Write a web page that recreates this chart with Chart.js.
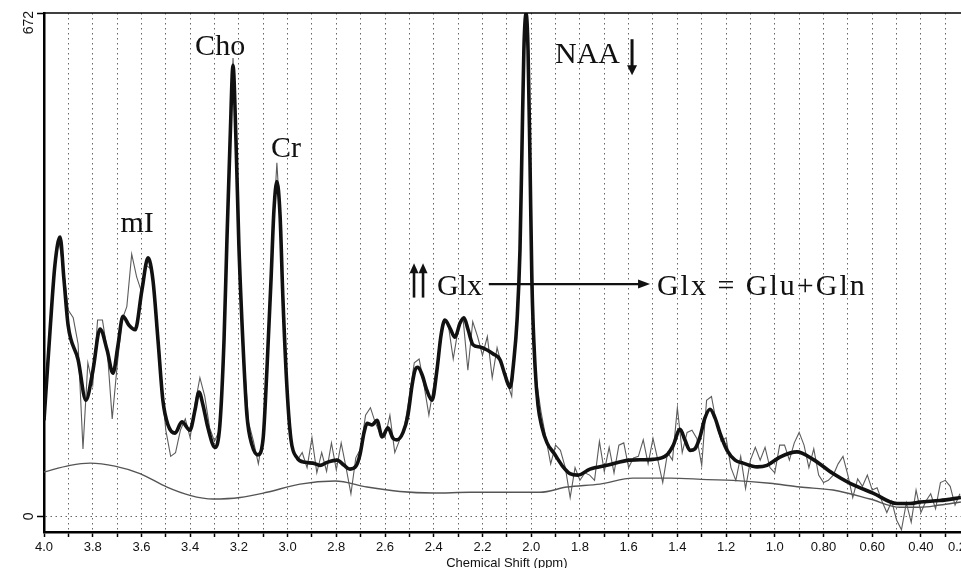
<!DOCTYPE html>
<html><head><meta charset="utf-8">
<script src="https://cdn.jsdelivr.net/npm/chart.js@4/dist/chart.umd.min.js"></script>
<style>html,body{margin:0;padding:0;background:#fff;overflow:hidden}</style>
</head><body>
<canvas id="c" width="961" height="568"></canvas>
<script>
// ---- Data (ppm, amplitude) ----
const fitPpm = [4.000,3.975,3.955,3.934,3.918,3.901,3.860,3.828,3.799,3.770,3.741,3.717,3.696,3.676,3.651,3.626,3.598,3.573,3.553,3.532,3.512,3.491,3.462,3.434,3.401,3.380,3.364,3.347,3.327,3.298,3.278,3.261,3.249,3.236,3.224,3.212,3.200,3.183,3.167,3.146,3.122,3.101,3.085,3.068,3.056,3.044,3.031,3.019,3.002,2.986,2.961,2.929,2.896,2.867,2.838,2.797,2.768,2.744,2.719,2.703,2.686,2.674,2.653,2.633,2.612,2.588,2.567,2.551,2.526,2.506,2.489,2.477,2.465,2.448,2.428,2.407,2.387,2.370,2.354,2.333,2.313,2.292,2.276,2.259,2.239,2.210,2.181,2.157,2.128,2.108,2.087,2.071,2.058,2.046,2.038,2.030,2.021,2.013,2.005,1.997,1.984,1.972,1.956,1.935,1.906,1.869,1.841,1.808,1.759,1.689,1.594,1.500,1.443,1.418,1.389,1.369,1.348,1.328,1.307,1.287,1.266,1.245,1.225,1.196,1.163,1.130,1.073,1.032,0.979,0.909,0.843,0.761,0.691,0.597,0.498,0.445,0.404,0.322,0.236];
const fitVal = [128,249,336,373,316,255,209,155,195,250,222,191,229,267,255,249,302,345,316,235,155,122,111,126,115,142,166,148,118,92,122,235,369,503,602,503,362,229,135,95,82,102,195,316,409,447,402,289,168,102,78,72,71,68,72,75,68,63,67,82,112,124,122,128,106,118,104,102,112,135,175,195,199,189,168,155,195,242,262,251,239,258,265,249,229,226,222,217,209,189,172,209,262,356,489,623,671,623,476,312,199,148,119,98,84,66,57,55,63,68,75,76,82,94,116,102,88,90,106,131,143,131,111,88,75,71,66,68,79,86,76,57,44,31,17,17,19,21,25];

const rawPpm = [4.00,3.98,3.96,3.94,3.92,3.90,3.88,3.86,3.84,3.82,3.80,3.78,3.76,3.74,3.72,3.70,3.68,3.66,3.64,3.62,3.60,3.58,3.56,3.54,3.52,3.50,3.48,3.46,3.44,3.42,3.40,3.38,3.36,3.34,3.32,3.30,3.28,3.26,3.25,3.24,3.224,3.21,3.20,3.18,3.16,3.14,3.12,3.10,3.08,3.06,3.044,3.03,3.02,3.00,2.98,2.96,2.94,2.92,2.90,2.88,2.86,2.84,2.82,2.80,2.78,2.76,2.74,2.72,2.70,2.68,2.66,2.64,2.62,2.60,2.58,2.56,2.54,2.52,2.50,2.48,2.46,2.44,2.42,2.40,2.38,2.36,2.34,2.32,2.30,2.28,2.26,2.24,2.22,2.20,2.18,2.16,2.14,2.12,2.10,2.08,2.06,2.05,2.04,2.03,2.021,2.01,2.00,1.99,1.98,1.96,1.94,1.92,1.90,1.88,1.86,1.84,1.82,1.80,1.78,1.76,1.74,1.72,1.70,1.68,1.66,1.64,1.62,1.60,1.58,1.56,1.54,1.52,1.50,1.48,1.46,1.44,1.42,1.40,1.38,1.36,1.34,1.32,1.30,1.28,1.26,1.24,1.22,1.20,1.18,1.16,1.14,1.12,1.10,1.08,1.06,1.04,1.02,1.00,0.98,0.96,0.94,0.92,0.90,0.88,0.86,0.84,0.82,0.80,0.78,0.76,0.74,0.72,0.70,0.68,0.66,0.64,0.62,0.60,0.58,0.56,0.54,0.52,0.50,0.48,0.46,0.44,0.42,0.40,0.38,0.36,0.34,0.32,0.30,0.28,0.26,0.24];
const rawVal = [130,220,325,370,330,275,265,230,90,205,175,262,262,220,130,200,262,280,350,320,300,335,330,270,185,115,80,85,115,130,105,150,185,160,118,100,115,230,365,480,612,490,360,215,125,100,70,110,220,380,472,395,290,160,90,75,85,65,105,58,85,60,98,62,98,65,30,78,90,135,145,125,110,105,135,85,102,120,160,205,210,175,135,175,210,262,255,210,250,265,195,260,240,215,240,185,225,200,180,160,262,330,420,630,672,580,400,255,185,140,105,70,95,88,65,25,65,48,58,55,48,100,60,92,58,95,98,65,78,80,102,70,104,75,45,85,75,145,85,112,115,104,68,155,160,125,100,105,65,48,80,37,75,92,75,92,65,58,95,95,75,98,112,95,65,90,55,45,48,55,70,80,55,25,50,40,55,35,38,20,5,20,-5,-18,18,-8,35,5,20,30,10,45,48,40,15,30];

const basePpm = [4.000,3.893,3.811,3.709,3.606,3.495,3.401,3.306,3.195,3.085,2.949,2.805,2.674,2.539,2.403,2.251,2.128,1.964,1.853,1.718,1.582,1.430,1.278,1.172,1.020,0.897,0.761,0.609,0.486,0.404,0.322,0.236];
const baseVal = [59,68,71,67,57,39,28,23,25,32,43,47,39,33,31,32,32,32,39,43,51,51,49,48,44,39,35,23,12,12,15,19];

const xTickValues = [4.0,3.9,3.8,3.7,3.6,3.5,3.4,3.3,3.2,3.1,3.0,2.9,2.8,2.7,2.6,2.5,2.4,2.3,2.2,2.1,2.0,1.9,1.8,1.7,1.6,1.5,1.4,1.3,1.2,1.1,1.0,0.9,0.8,0.7,0.6,0.5,0.4,0.3];
const xMajorValues = [4.0,3.8,3.6,3.4,3.2,3.0,2.8,2.6,2.4,2.2,2.0,1.8,1.6,1.4,1.2,1.0,0.8,0.6,0.4,0.2];
const xTickLabels = ["4.0","3.8","3.6","3.4","3.2","3.0","2.8","2.6","2.4","2.2","2.0","1.8","1.6","1.4","1.2","1.0","0.80","0.60","0.40","0.20"];
const yTickValues = [0, 672];
const yTickLabels = ["0", "672"];
const xTitle = "Chemical Shift (ppm)";

// annotations in data coordinates (ppm, amplitude)
const notes = [
  {t:"Cho", x:3.277, y:616, align:"center", sp:0},
  {t:"Cr",  x:3.007, y:480, align:"center", sp:0},
  {t:"mI",  x:3.618, y:380, align:"center", sp:0},
  {t:"NAA", x:1.769, y:605, align:"center", sp:0},
  {t:"Glx", x:2.387, y:296, align:"left", sp:0},
  {t:"Glx = Glu+Gln", x:1.484, y:296, align:"left", sp:2}
];

const pts = (xs, ys) => xs.map((p, i) => ({x: p, y: ys[i]}));

const deco = {
  id: 'deco',
  afterDraw(chart) {
    const {ctx, chartArea: a, scales: {x, y}} = chart;
    ctx.save();
    // top border
    ctx.strokeStyle = '#000'; ctx.lineWidth = 1.6;
    ctx.beginPath(); ctx.moveTo(a.left, a.top); ctx.lineTo(a.right + 2, a.top); ctx.stroke();
    // y labels rotated
    ctx.fillStyle = '#111'; ctx.font = '14px "Liberation Sans", Arial, sans-serif';
    ctx.textBaseline = 'middle';
    yTickValues.forEach((v, i) => {
      const py = y.getPixelForValue(v);
      ctx.save(); ctx.translate(29, i === 1 ? py - 2 : py); ctx.rotate(-Math.PI / 2);
      ctx.textAlign = i === 1 ? 'right' : 'center';
      ctx.fillText(yTickLabels[i], 0, 0);
      ctx.restore();
    });
    // last cut-off x label
    ctx.font = '13px "Liberation Sans", Arial, sans-serif';
    ctx.textAlign = 'left'; ctx.textBaseline = 'top';
    ctx.fillText(xTickLabels[xTickLabels.length - 1], a.right - 13, 541);
    // x title
    ctx.textAlign = 'center'; ctx.textBaseline = 'top';
    ctx.fillText(xTitle, x.getPixelForValue(2.1), 557);
    // annotations
    ctx.fillStyle = '#111'; ctx.font = '30px "Liberation Serif", "Times New Roman", serif';
    ctx.textBaseline = 'alphabetic';
    notes.forEach(n => {
      ctx.letterSpacing = n.sp + 'px';
      ctx.textAlign = n.align;
      ctx.fillText(n.t, x.getPixelForValue(n.x), y.getPixelForValue(n.y));
    });
    ctx.letterSpacing = '0px';
    // NAA down arrow
    ctx.strokeStyle = '#111'; ctx.fillStyle = '#111'; ctx.lineWidth = 3;
    let ax = x.getPixelForValue(1.586), at = y.getPixelForValue(637), ab = y.getPixelForValue(589);
    ctx.beginPath(); ctx.moveTo(ax, at); ctx.lineTo(ax, ab - 8); ctx.stroke();
    ctx.beginPath(); ctx.moveTo(ax - 5, ab - 10); ctx.lineTo(ax + 5, ab - 10); ctx.lineTo(ax, ab); ctx.closePath(); ctx.fill();
    // double up arrows
    ctx.lineWidth = 2.6;
    [2.481, 2.444].forEach(v => {
      const px = x.getPixelForValue(v), top = y.getPixelForValue(338), bot = y.getPixelForValue(292);
      ctx.beginPath(); ctx.moveTo(px, bot); ctx.lineTo(px, top + 8); ctx.stroke();
      ctx.beginPath(); ctx.moveTo(px - 4.5, top + 10); ctx.lineTo(px + 4.5, top + 10); ctx.lineTo(px, top); ctx.closePath(); ctx.fill();
    });
    // long right arrow
    const lx0 = x.getPixelForValue(2.174), lx1 = x.getPixelForValue(1.512), ly = y.getPixelForValue(310);
    ctx.lineWidth = 2.4;
    ctx.beginPath(); ctx.moveTo(lx0, ly); ctx.lineTo(lx1 - 10, ly); ctx.stroke();
    ctx.beginPath(); ctx.moveTo(lx1 - 12, ly - 4.5); ctx.lineTo(lx1 - 12, ly + 4.5); ctx.lineTo(lx1, ly); ctx.closePath(); ctx.fill();
    ctx.restore();
  }
};

new Chart(document.getElementById('c'), {
  type: 'line',
  data: {
    datasets: [
      {label: 'fit', data: pts(fitPpm, fitVal), borderColor: '#111', borderWidth: 3.6, pointRadius: 0, cubicInterpolationMode: 'monotone', order: 0},
      {label: 'raw', data: pts(rawPpm, rawVal), borderColor: '#5c5c5c', borderWidth: 1.1, pointRadius: 0, tension: 0, order: 2},
      {label: 'baseline', data: pts(basePpm, baseVal), borderColor: '#555', borderWidth: 1.4, pointRadius: 0, cubicInterpolationMode: 'monotone', order: 1}
    ]
  },
  options: {
    responsive: false, animation: false, devicePixelRatio: 1,
    layout: {padding: {top: 13, left: 0, right: 0, bottom: 0}},
    plugins: {legend: {display: false}, tooltip: {enabled: false}},
    scales: {
      x: {
        type: 'linear', reverse: true, min: 0.2356, max: 4.0,
        afterBuildTicks: s => { s.ticks = xTickValues.map(v => ({value: v})); },
        afterFit: s => { s.height = 36; s.paddingLeft = 0; s.paddingRight = 0; },
        grid: {color: '#666', lineWidth: 1, drawTicks: true, tickLength: 5, tickColor: '#000', tickWidth: 1.5, tickBorderDash: []},
        border: {display: true, color: '#000', width: 2.5, dash: [1.5, 3.5]},
        ticks: {autoSkip: false, maxRotation: 0, minRotation: 0, padding: 3, color: '#111',
          font: {family: '"Liberation Sans", Arial, sans-serif', size: 13},
          callback: v => { const i = xMajorValues.findIndex(m => Math.abs(m - v) < 1e-6); return i >= 0 ? xTickLabels[i] : ''; }}
      },
      y: {
        min: -21, max: 672,
        afterBuildTicks: s => { s.ticks = yTickValues.map(v => ({value: v})); },
        afterFit: s => { s.width = 44; },
        ticks: {display: false},
        grid: {color: c => (c.tick && c.tick.value === 0) ? '#666' : 'rgba(0,0,0,0)', lineWidth: 1, tickColor: '#000', tickLength: 7, tickWidth: 1.5, tickBorderDash: []},
        border: {display: true, color: '#000', width: 2.5, dash: [1.5, 3.5]}
      }
    }
  },
  plugins: [deco]
});
</script>
</body></html>
